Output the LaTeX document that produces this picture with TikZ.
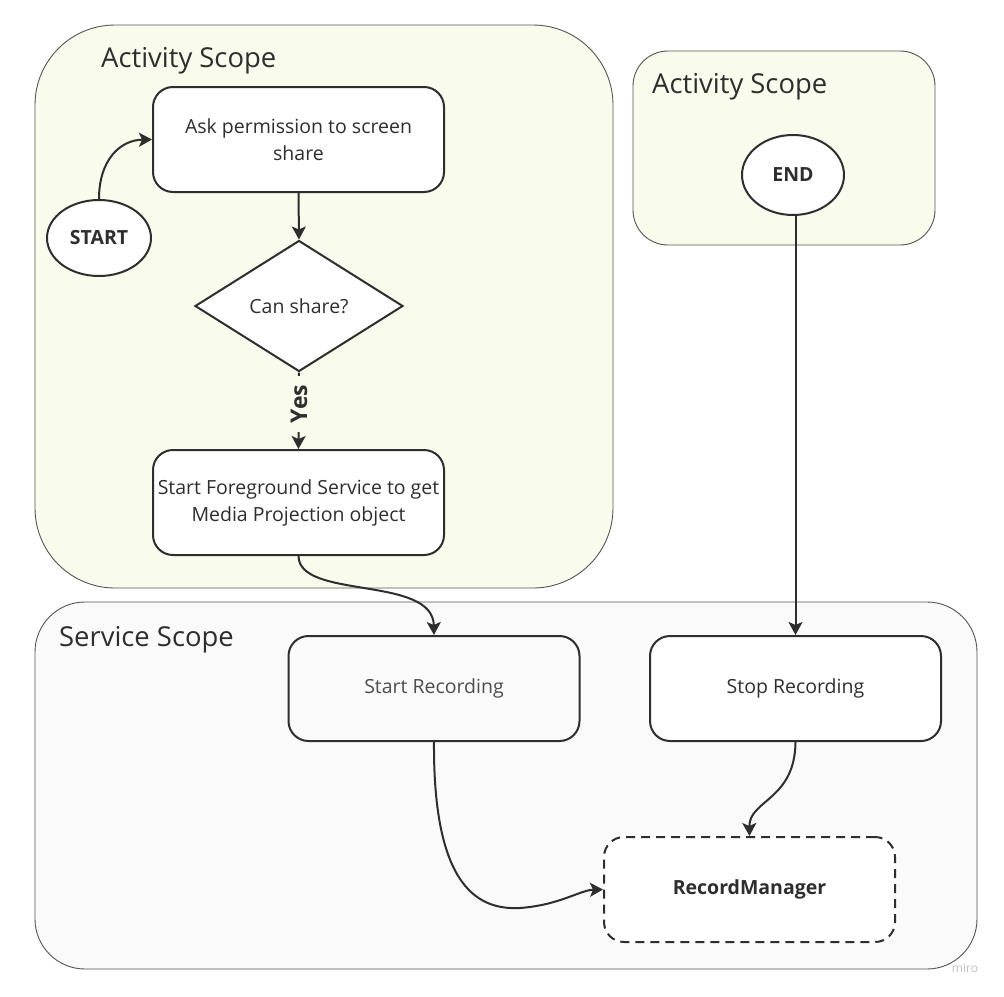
\documentclass[tikz,border=0pt]{standalone}
\usepackage{fontspec}
\setmainfont{Open Sans}
\usetikzlibrary{shapes.geometric,arrows.meta}
\definecolor{actfill}{HTML}{F9FBEC}
\definecolor{srvfill}{HTML}{FAFAFA}
\definecolor{ink}{HTML}{2E2E2E}
\definecolor{scopeline}{HTML}{555555}
\tikzset{
  scope box/.style={draw=scopeline, line width=0.9pt},
  stepbox/.style={draw=ink, line width=2pt, rounded corners=20pt, fill=white, minimum width=291pt, minimum height=105pt, align=center, font=\fontsize{19.5}{27}\selectfont, text=ink, inner sep=2pt},
  termnode/.style={draw=ink, line width=2pt, ellipse, fill=white, font=\bfseries\fontsize{19.5}{22}\selectfont, text=ink, inner sep=0pt},
  conn/.style={draw=ink, line width=2pt, -{Stealth[length=13pt,width=14pt,inset=3pt]}},
  scopetitle/.style={anchor=base west, font=\fontsize{27.4}{32}\selectfont, text=ink, inner sep=0pt},
}
\begin{document}
\begin{tikzpicture}[x=1pt,y=-1pt]
\useasboundingbox (0,0) rectangle (1004,996);
\fill[white] (0,0) rectangle (1004,996);
% scopes
\draw[scope box, fill=actfill, rounded corners=80pt] (35,25) rectangle (613,588);
\draw[scope box, fill=actfill, rounded corners=35pt] (633,51) rectangle (935,245);
\draw[scope box, fill=srvfill, rounded corners=50pt] (35,602) rectangle (977,969);
\node[scopetitle] (t1) at (101,67) {Activity Scope};
\node[scopetitle] (t2) at (652,93) {Activity Scope};
\node[scopetitle] (t3) at (59,646) {Service Scope};
% nodes
\node[termnode, minimum width=104pt, minimum height=76pt] (start) at (99,238) {START};
\node[stepbox] (ask) at (298.5,139.5) {Ask permission to screen\\share};
\node[draw=ink, line width=2pt, diamond, fill=white, aspect=1.6, minimum width=208pt, minimum height=131pt, inner sep=0pt, font=\fontsize{19.5}{22}\selectfont, text=ink] (can) at (299,306) {Can share?};
\node[stepbox] (fg) at (298.5,502.5) {Start Foreground Service to get\\Media Projection object};
\node[stepbox, fill=srvfill, text=ink!85] (srec) at (434,688.5) {Start Recording};
\node[stepbox] (stop) at (795.5,688.5) {Stop Recording};
\node[stepbox, dashed, dash pattern=on 9pt off 6pt, font=\bfseries\fontsize{19.5}{22}\selectfont] (rm) at (749.5,889.5) {RecordManager};
\node[termnode, minimum width=102pt, minimum height=80pt] (endn) at (793,175) {END};
% connectors
\draw[conn] (start.north) .. controls (99,160) and (120,140) .. (ask.west);
\draw[conn] (ask.south) -- (can.north);
\draw[conn] (can.south) -- (fg.north);
\node[rotate=90, font=\bfseries\fontsize{23}{24}\selectfont, text=ink, fill=actfill, inner xsep=9pt, inner ysep=2pt] (yes) at (299,404) {Yes};
\draw[conn] (fg.south) .. controls (299,600) and (433,575) .. (srec.north);
\draw[conn] (endn.south -| stop.north) -- (stop.north);
\draw[conn] (srec.south) .. controls (433,890) and (480,910) .. (520,908) .. controls (560,905) and (580,890) .. (rm.west);
\draw[conn] (stop.south) .. controls (795,800) and (749,800) .. (rm.north);
\node[font=\fontsize{12}{13}\selectfont, text=black!25] (miro) at (965,968) {miro};
\end{tikzpicture}
\end{document}
